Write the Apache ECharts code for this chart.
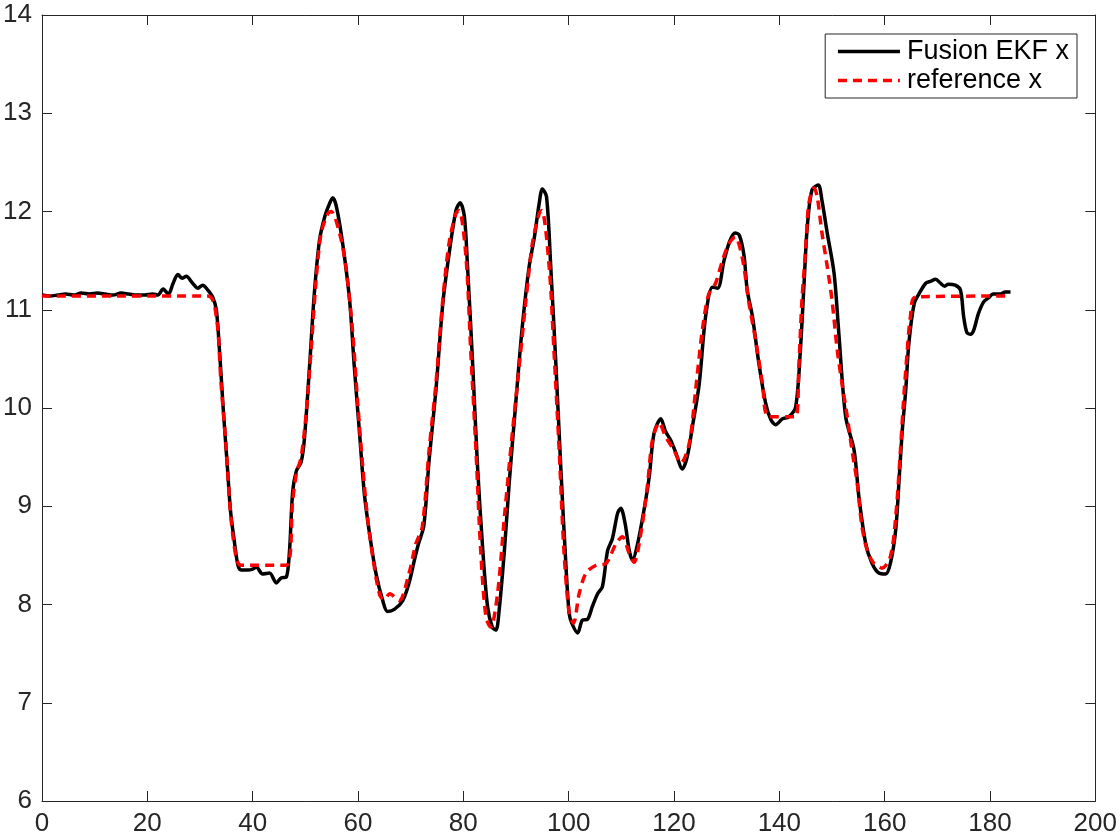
<!DOCTYPE html>
<html>
<head>
<meta charset="utf-8">
<script src="https://cdn.jsdelivr.net/npm/echarts@6/dist/echarts.min.js"></script>
<style>
html, body { margin: 0; padding: 0; background: #fff; }
#chart { width: 1120px; height: 840px; }
</style>
</head>
<body>
<div id="chart"></div>
<script>
// series names
const seriesNames = ['Fusion EKF x', 'reference x']

// Fusion EKF estimate (black solid)
const ekfX = [0, 1.5, 3, 4.5, 6, 7.5, 9, 10.5, 12, 13.5, 15, 16.5, 18, 19.5, 21, 22, 23, 24, 24.9, 25.8, 26.6, 27.4, 28.6, 29.6, 30.5, 31.5, 32.4, 33.1, 33.7, 34.4, 35.2, 35.8, 36.5, 37.2, 37.8, 39.0, 40.0, 40.7, 41.9, 43.2, 44.5, 45.4, 46.4, 47.0, 47.6, 48.3, 49.2, 49.8, 50.8, 51.7, 52.7, 53.7, 54.6, 55.2, 55.9, 57.1, 58.4, 59.3, 60.3, 61.2, 62.2, 63.4, 64.7, 65.6, 66.9, 68.5, 69.7, 70.7, 71.5, 72.5, 73.5, 74.8, 76.1, 77.3, 78.6, 79.4, 80.2, 80.8, 81.8, 82.7, 83.7, 84.6, 85.5, 86.2, 86.8, 87.8, 88.7, 90.0, 91.2, 92.5, 93.5, 94.4, 95.0, 95.8, 96.6, 97.6, 98.5, 99.5, 100.1, 100.6, 101.7, 102.6, 103.6, 104.5, 105.5, 106.4, 107.4, 108.3, 109.3, 109.9, 110.7, 111.5, 112.1, 113.1, 114.3, 115.3, 116.2, 117.5, 118.4, 119.4, 120.3, 121.6, 122.5, 123.5, 124.8, 126.0, 127.3, 128.3, 129.5, 130.6, 131.6, 132.4, 133.3, 133.9, 134.9, 136.1, 137.4, 138.4, 139.3, 140.6, 141.8, 143.1, 144.0, 144.7, 145.3, 146.2, 147.4, 148.1, 149.1, 150.4, 151.3, 152.6, 154.2, 155.1, 156.4, 157.6, 158.9, 160.2, 161.1, 162.1, 162.7, 163.3, 164.0, 164.6, 165.6, 166.5, 167.8, 168.7, 169.7, 170.6, 171.4, 172.1, 173.4, 174.4, 175.0, 175.6, 176.3, 176.9, 177.8, 178.8, 179.7, 180.6, 182.0, 182.9, 183.9]
const ekfY = [11.15, 11.14, 11.15, 11.16, 11.15, 11.17, 11.16, 11.17, 11.16, 11.15, 11.17, 11.16, 11.15, 11.15, 11.16, 11.15, 11.21, 11.16, 11.27, 11.36, 11.32, 11.34, 11.27, 11.22, 11.25, 11.20, 11.13, 11.0, 10.59, 10.0, 9.4, 8.95, 8.65, 8.40, 8.35, 8.35, 8.36, 8.38, 8.31, 8.32, 8.22, 8.27, 8.28, 8.55, 9.15, 9.36, 9.45, 9.67, 10.42, 11.16, 11.71, 11.95, 12.08, 12.14, 12.05, 11.67, 11.10, 10.42, 9.74, 9.13, 8.72, 8.32, 8.04, 7.93, 7.95, 8.04, 8.22, 8.45, 8.62, 8.80, 9.47, 10.18, 11.06, 11.57, 12.01, 12.09, 11.95, 11.44, 10.42, 9.40, 8.55, 7.98, 7.77, 7.74, 7.94, 8.55, 9.23, 10.08, 10.83, 11.44, 11.74, 12.08, 12.23, 12.15, 11.44, 10.42, 9.40, 8.38, 7.91, 7.81, 7.71, 7.84, 7.85, 7.98, 8.11, 8.18, 8.55, 8.67, 8.93, 8.98, 8.83, 8.55, 8.45, 8.62, 8.96, 9.30, 9.74, 9.89, 9.76, 9.67, 9.55, 9.38, 9.50, 9.81, 10.25, 10.93, 11.23, 11.22, 11.5, 11.7, 11.78, 11.76, 11.55, 11.20, 10.93, 10.46, 10.05, 9.88, 9.83, 9.89, 9.91, 10.01, 10.59, 11.27, 11.84, 12.22, 12.27, 12.11, 11.78, 11.37, 10.76, 9.91, 9.57, 9.10, 8.62, 8.42, 8.32, 8.31, 8.42, 8.76, 9.23, 9.74, 10.18, 10.66, 11.06, 11.16, 11.27, 11.29, 11.31, 11.27, 11.24, 11.26, 11.25, 11.20, 10.93, 10.77, 10.75, 10.79, 10.96, 11.08, 11.12, 11.16, 11.16, 11.18, 11.18]

// reference trajectory (red dashed)
const refX = [0, 31.5, 33.1, 34.0, 35.0, 35.6, 36.2, 37.0, 37.8, 46.4, 47.6, 48.3, 49.2, 50.1, 51.1, 52.0, 53.0, 54.3, 54.9, 56.5, 57.7, 59.0, 59.9, 60.9, 61.8, 62.8, 64.1, 65.0, 66.0, 67.8, 69.7, 71.0, 72.2, 73.5, 74.8, 76.1, 77.3, 78.6, 79.2, 80.5, 81.4, 82.4, 83.3, 84.3, 85.2, 86.5, 87.8, 89.3, 90.6, 91.9, 93.1, 94.4, 94.9, 96.3, 97.2, 98.2, 99.1, 100.1, 100.9, 102.0, 103.3, 105.2, 107.1, 109.0, 110.2, 111.5, 112.4, 113.7, 115.0, 115.9, 117.2, 118.4, 120.0, 121.3, 122.9, 124.1, 125.4, 126.6, 127.9, 129.2, 130.4, 131.6, 133.0, 134.2, 135.5, 136.8, 138.0, 143.1, 143.7, 144.3, 145.0, 145.6, 146.6, 147.2, 148.1, 149.1, 150.0, 151.0, 151.9, 152.9, 153.8, 154.8, 155.7, 156.7, 157.9, 159.5, 161.1, 162.1, 163.0, 163.6, 164.3, 164.9, 165.9, 182.9]
const refY = [11.14, 11.14, 10.93, 10.25, 9.57, 9.06, 8.72, 8.45, 8.40, 8.40, 9.06, 9.33, 9.50, 9.91, 10.59, 11.27, 11.78, 11.98, 12.0, 11.78, 11.44, 10.76, 10.08, 9.40, 8.89, 8.49, 8.10, 8.05, 8.11, 8.04, 8.32, 8.62, 8.79, 9.57, 10.25, 11.10, 11.68, 11.98, 12.01, 11.54, 10.59, 9.57, 8.55, 7.87, 7.77, 8.11, 8.89, 9.74, 10.42, 11.10, 11.67, 11.98, 12.01, 11.44, 10.59, 9.57, 8.55, 7.91, 7.81, 8.11, 8.32, 8.40, 8.42, 8.62, 8.69, 8.52, 8.43, 8.72, 9.23, 9.67, 9.85, 9.71, 9.57, 9.44, 9.64, 10.18, 10.8, 11.16, 11.27, 11.5, 11.67, 11.74, 11.52, 11.08, 10.69, 10.25, 9.91, 9.91, 10.42, 11.10, 11.61, 12.08, 12.24, 12.15, 11.78, 11.44, 11.10, 10.59, 10.25, 9.91, 9.57, 9.23, 8.79, 8.55, 8.42, 8.37, 8.49, 8.89, 9.57, 10.08, 10.59, 10.93, 11.13, 11.14]

const pairs = (xs, ys) => xs.map((x, i) => [x, ys[i]])

const font = "'Liberation Sans', Arial, Helvetica, sans-serif"
const axisColor = '#262626'

const chart = echarts.init(document.getElementById('chart'))

const baseAxis = {
  type: 'value',
  axisLine: { show: true, onZero: false, lineStyle: { color: axisColor, width: 1 } },
  axisTick: { show: true, inside: true, length: 10, lineStyle: { color: axisColor, width: 1 } },
  splitLine: { show: false },
}

chart.setOption({
  animation: false,
  backgroundColor: '#fff',
  grid: {
    left: 42,
    right: 23,
    top: 15,
    bottom: 39,
    containLabel: false,
  },
  legend: {
    orient: 'vertical',
    right: 43,
    top: 34,
    padding: [4, 8, 4, 11],
    itemGap: 2,
    itemWidth: 62,
    itemHeight: 14,
    borderColor: '#262626',
    borderWidth: 1,
    backgroundColor: '#fff',
    itemStyle: { opacity: 0 },
    lineStyle: { width: 3.5 },
    textStyle: { fontFamily: font, fontSize: 27, color: '#000', padding: [0, 0, 0, 2] },
    data: seriesNames,
  },
  xAxis: [
    {
      ...baseAxis,
      min: 0,
      max: 200,
      interval: 20,
      position: 'bottom',
      axisLabel: { fontFamily: font, fontSize: 26, color: axisColor, margin: 10 },
    },
    {
      ...baseAxis,
      min: 0,
      max: 200,
      interval: 20,
      position: 'top',
      axisLabel: { show: false },
    },
  ],
  yAxis: [
    {
      ...baseAxis,
      min: 6,
      max: 14,
      interval: 1,
      position: 'left',
      axisLabel: { fontFamily: font, fontSize: 26, color: axisColor, margin: 10 },
    },
    {
      ...baseAxis,
      min: 6,
      max: 14,
      interval: 1,
      position: 'right',
      axisLabel: { show: false },
    },
  ],
  series: [
    {
      name: seriesNames[0],
      type: 'line',
      data: pairs(ekfX, ekfY),
      showSymbol: false,
      symbol: 'none',
      smooth: 0.3,
      lineStyle: { color: '#000', width: 3.5 },
      itemStyle: { color: '#000' },
      z: 2,
    },
    {
      name: seriesNames[1],
      type: 'line',
      data: pairs(refX, refY),
      showSymbol: false,
      symbol: 'none',
      smooth: 0.3,
      lineStyle: { color: '#ff0000', width: 3.5, type: [9, 6] },
      itemStyle: { color: '#ff0000' },
      z: 3,
    },
  ],
})
</script>
</body>
</html>
